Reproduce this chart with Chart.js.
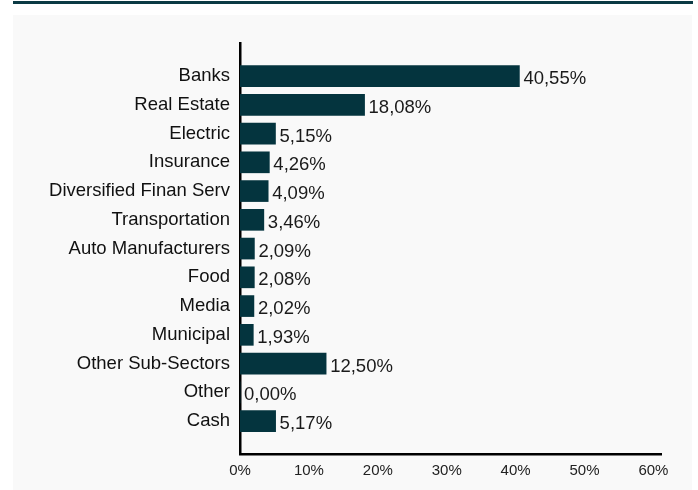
<!DOCTYPE html>
<html>
<head>
<meta charset="utf-8">
<script src="https://cdn.jsdelivr.net/npm/chart.js@4.4.1/dist/chart.umd.min.js"></script>
<style>
  html, body { margin: 0; padding: 0; background: #ffffff; }
  body { width: 698px; height: 490px; position: relative; overflow: hidden; }
  #topline { position: absolute; left: 13px; top: 1px; width: 680px; height: 3px; background: #0b3a44; }
  #panel { position: absolute; left: 13px; top: 15px; width: 679px; height: 475px; background: #f9f9f9; }
</style>
</head>
<body>
<div id="topline"></div>
<div id="panel"><canvas id="chart" width="679" height="475"></canvas></div>
<script>
// Sector weights (%)
const categories = [
    "Banks", "Real Estate", "Electric", "Insurance", "Diversified Finan Serv",
    "Transportation", "Auto Manufacturers", "Food", "Media", "Municipal",
    "Other Sub-Sectors", "Other", "Cash"
];
const weights = [40.55, 18.08, 5.15, 4.26, 4.09, 3.46, 2.09, 2.08, 2.02, 1.93, 12.50, 0.00, 5.17];
const xTicks = [0, 10, 20, 30, 40, 50, 60];

const fmt = v => v.toFixed(2).replace('.', ',') + '%';
const font = '"Liberation Sans", Arial, sans-serif';

// value labels at the end of each bar
const barLabels = {
    id: 'barLabels',
    afterDatasetsDraw(chart) {
        const ctx = chart.ctx;
        const meta = chart.getDatasetMeta(0);
        ctx.save();
        ctx.font = '18.5px ' + font;
        ctx.fillStyle = '#1a1a1a';
        ctx.textAlign = 'left';
        ctx.textBaseline = 'middle';
        meta.data.forEach((bar, i) => {
            ctx.fillText(fmt(weights[i]), bar.x + 4, bar.y + 3);
        });
        ctx.restore();
    }
};

new Chart(document.getElementById('chart').getContext('2d'), {
    type: 'bar',
    data: {
        datasets: [{
            data: weights.map((v, i) => ({ x: v, y: i })),
            backgroundColor: '#04343e',
            borderWidth: 0,
            barThickness: 21
        }]
    },
    options: {
        indexAxis: 'y',
        responsive: false,
        animation: false,
        layout: { padding: { top: 28, right: 31, bottom: 2, left: 0 } },
        plugins: {
            legend: { display: false },
            tooltip: { enabled: false }
        },
        scales: {
            x: {
                type: 'linear',
                min: 0,
                max: 61.1,
                afterBuildTicks: s => { s.ticks = xTicks.map(v => ({ value: v })); },
                grid: { display: false, drawTicks: false },
                border: { display: true, color: '#000', width: 2.5 },
                ticks: {
                    padding: 8,
                    color: '#222',
                    font: { family: font, size: 15 },
                    callback: v => v + '%'
                }
            },
            y: {
                type: 'linear',
                reverse: true,
                offset: false,
                min: -1.15,
                max: 13.145,
                afterBuildTicks: s => { s.ticks = categories.map((c, i) => ({ value: i })); },
                afterFit: s => { s.width = 227; },
                grid: { display: false, drawTicks: false },
                border: { display: true, color: '#000', width: 2.5 },
                ticks: {
                    padding: 10,
                    color: '#111',
                    font: { family: font, size: 18.5 },
                    callback: v => categories[v]
                }
            }
        }
    },
    plugins: [barLabels]
});
</script>
</body>
</html>
